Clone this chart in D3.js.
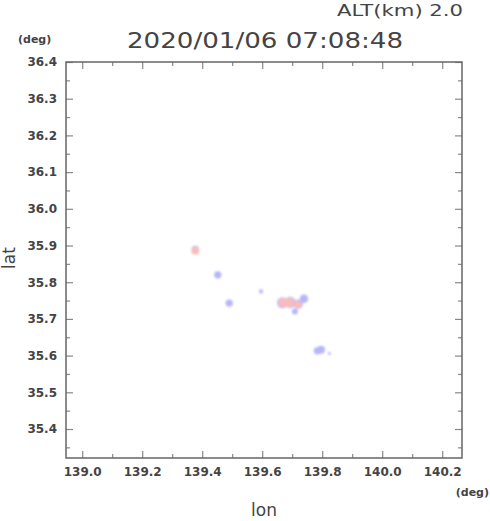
<!DOCTYPE html>
<html>
<head>
<meta charset="utf-8">
<script src="https://cdn.jsdelivr.net/npm/d3@7.9.0/dist/d3.min.js"></script>
<style>
  body { margin: 0; background: #fff; }
  svg { display: block; }
</style>
</head>
<body>
<svg id="chart" width="490" height="521"></svg>
<script>
// --- data ---
const titleText = '2020/01/06 07:08:48';
const altText = 'ALT(km) 2.0';

const lonTicks = [139.0, 139.2, 139.4, 139.6, 139.8, 140.0, 140.2];
const latTicks = [35.4, 35.5, 35.6, 35.7, 35.8, 35.9, 36.0, 36.1, 36.2, 36.3, 36.4];

// weak echo (blue)
const blueLon = [139.377, 139.452, 139.490, 139.596, 139.668, 139.693, 139.720, 139.739, 139.709, 139.784, 139.796, 139.824];
const blueLat = [35.889, 35.820, 35.743, 35.775, 35.744, 35.745, 35.740, 35.755, 35.720, 35.613, 35.616, 35.606];
const blueVal = [3, 3, 3, 1, 7, 7, 5, 4, 2, 3, 3.5, 0.5];

// stronger echo (red)
const redLon = [139.377, 139.669, 139.691, 139.719];
const redLat = [35.886, 35.744, 35.745, 35.739];
const redVal = [3.5, 5, 5, 3.5];

// --- layout ---
const svg = d3.select('#chart');
const plot = { left: 66, right: 462, top: 62, bottom: 458 };

const x = d3.scaleLinear().domain([138.946, 140.266]).range([plot.left, plot.right]);
const y = d3.scaleLinear().domain([35.321, 36.4]).range([plot.bottom, plot.top]);
const r = d3.scaleSqrt().domain([0, 7]).range([0, 5.6]);

const lonMinor = d3.range(139.1, 140.25, 0.2);
const latMinor = d3.range(35.35, 36.4, 0.1);

// soft edge on the echoes
svg.append('defs').append('filter')
  .attr('id', 'soft')
  .append('feGaussianBlur')
  .attr('stdDeviation', 0.8);

// --- echoes ---
const blue = blueLon.map((d, i) => ({ lon: d, lat: blueLat[i], v: blueVal[i] }));
const red = redLon.map((d, i) => ({ lon: d, lat: redLat[i], v: redVal[i] }));

const echoes = svg.append('g').attr('filter', 'url(#soft)');
echoes.selectAll('circle.blue')
  .data(blue)
  .enter()
  .append('circle')
  .attr('class', 'blue')
  .attr('cx', d => x(d.lon))
  .attr('cy', d => y(d.lat))
  .attr('r', d => r(d.v))
  .attr('fill', '#b6b6f8');
echoes.selectAll('circle.red')
  .data(red)
  .enter()
  .append('circle')
  .attr('class', 'red')
  .attr('cx', d => x(d.lon))
  .attr('cy', d => y(d.lat))
  .attr('r', d => r(d.v))
  .attr('fill', '#f8bcbc');

// --- axes (ticks point inward on all four sides) ---
const tickFont = 'DejaVu Sans, sans-serif';

function styleAxis(g) {
  g.select('.domain').remove();
  g.selectAll('.tick line').attr('stroke', '#888').attr('stroke-width', 1.2);
  g.selectAll('.tick text')
    .attr('fill', '#444')
    .style('font-family', tickFont)
    .style('font-weight', 'bold')
    .style('font-size', '12px');
}

// bottom
svg.append('g')
  .attr('transform', `translate(0,${plot.bottom})`)
  .call(d3.axisBottom(x).tickValues(lonTicks).tickFormat(d3.format('.1f')).tickSize(-7).tickPadding(9))
  .call(styleAxis);
svg.append('g')
  .attr('transform', `translate(0,${plot.bottom})`)
  .call(d3.axisBottom(x).tickValues(lonMinor).tickFormat('').tickSize(-4))
  .call(styleAxis);
// top
svg.append('g')
  .attr('transform', `translate(0,${plot.top})`)
  .call(d3.axisTop(x).tickValues(lonTicks).tickFormat('').tickSize(-7))
  .call(styleAxis);
svg.append('g')
  .attr('transform', `translate(0,${plot.top})`)
  .call(d3.axisTop(x).tickValues(lonMinor).tickFormat('').tickSize(-4))
  .call(styleAxis);
// left
svg.append('g')
  .attr('transform', `translate(${plot.left},0)`)
  .call(d3.axisLeft(y).tickValues(latTicks).tickFormat(d3.format('.1f')).tickSize(-7).tickPadding(9))
  .call(styleAxis);
svg.append('g')
  .attr('transform', `translate(${plot.left},0)`)
  .call(d3.axisLeft(y).tickValues(latMinor).tickFormat('').tickSize(-4))
  .call(styleAxis);
// right
svg.append('g')
  .attr('transform', `translate(${plot.right},0)`)
  .call(d3.axisRight(y).tickValues(latTicks).tickFormat('').tickSize(-7))
  .call(styleAxis);
svg.append('g')
  .attr('transform', `translate(${plot.right},0)`)
  .call(d3.axisRight(y).tickValues(latMinor).tickFormat('').tickSize(-4))
  .call(styleAxis);

// frame
svg.append('rect')
  .attr('x', plot.left)
  .attr('y', plot.top)
  .attr('width', plot.right - plot.left)
  .attr('height', plot.bottom - plot.top)
  .attr('fill', 'none')
  .attr('stroke', '#666')
  .attr('stroke-width', 1.5);

// --- texts ---
svg.append('text')
  .attr('x', 265).attr('y', 48)
  .attr('text-anchor', 'middle')
  .attr('textLength', 276).attr('lengthAdjust', 'spacingAndGlyphs')
  .attr('fill', '#444')
  .style('font-family', tickFont)
  .style('font-size', '21px')
  .text(titleText);

svg.append('text')
  .attr('x', 463).attr('y', 16)
  .attr('text-anchor', 'end')
  .attr('textLength', 126).attr('lengthAdjust', 'spacingAndGlyphs')
  .attr('fill', '#444')
  .style('font-family', tickFont)
  .style('font-size', '16px')
  .text(altText);

svg.append('text')
  .attr('x', 18).attr('y', 43)
  .attr('fill', '#444')
  .style('font-family', tickFont)
  .style('font-weight', 'bold')
  .style('font-size', '11px')
  .text('(deg)');

svg.append('text')
  .attr('x', 489).attr('y', 496)
  .attr('text-anchor', 'end')
  .attr('fill', '#444')
  .style('font-family', tickFont)
  .style('font-weight', 'bold')
  .style('font-size', '11px')
  .text('(deg)');

svg.append('text')
  .attr('x', 264).attr('y', 516)
  .attr('text-anchor', 'middle')
  .attr('fill', '#444')
  .style('font-family', tickFont)
  .style('font-size', '17px')
  .text('lon');

svg.append('text')
  .attr('transform', 'translate(15,258) rotate(-90)')
  .attr('text-anchor', 'middle')
  .attr('fill', '#444')
  .style('font-family', tickFont)
  .style('font-size', '17px')
  .text('lat');
</script>
</body>
</html>
